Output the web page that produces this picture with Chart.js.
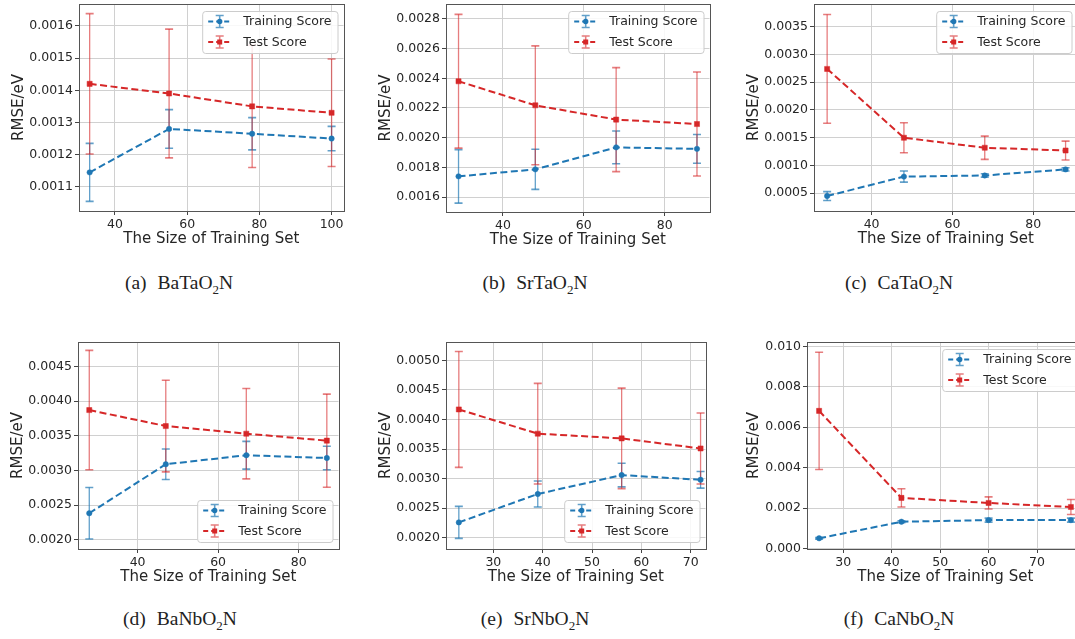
<!DOCTYPE html>
<html>
<head>
<meta charset="utf-8">
<script src="https://cdn.jsdelivr.net/npm/chart.js@4.4.0/dist/chart.umd.min.js"></script>
<style>
    html, body { margin: 0; padding: 0; background: #fff; }
    body { position: relative; width: 1075px; height: 639px; overflow: hidden; }
    canvas { position: absolute; }
    .cap {
        position: absolute;
        font-family: 'Liberation Serif', 'Times New Roman', serif;
        font-size: 19.5px;
        color: #222;
        white-space: nowrap;
        transform: translateX(-50%);
    }
    .cap .gap { display: inline-block; width: 11px; }
    .cap sub { font-size: 13px; vertical-align: -5px; line-height: 0; }
</style>
</head>
<body>
<div class="cap" style="left:179px; top:272px">(a)<span class="gap"></span>BaTaO<sub>2</sub>N</div>
<div class="cap" style="left:535px; top:272px">(b)<span class="gap"></span>SrTaO<sub>2</sub>N</div>
<div class="cap" style="left:899px; top:272px">(c)<span class="gap"></span>CaTaO<sub>2</sub>N</div>
<div class="cap" style="left:180px; top:608px">(d)<span class="gap"></span>BaNbO<sub>2</sub>N</div>
<div class="cap" style="left:535px; top:608px">(e)<span class="gap"></span>SrNbO<sub>2</sub>N</div>
<div class="cap" style="left:899px; top:608px">(f)<span class="gap"></span>CaNbO<sub>2</sub>N</div>

<script>
// --- data ---
const seriesLabels = ['Training Score', 'Test Score'];

// (a) BaTaO2N
const xA = [33, 55, 78, 100];
const trainA = [0.001145, 0.00128, 0.001265, 0.00125];
const trainErrA = [0.00009, 0.00006, 0.00005, 0.000038];
const testA = [0.00142, 0.00139, 0.00135, 0.00133];
const testErrA = [0.000218, 0.0002, 0.00019, 0.000167];
const xTicksA = [40, 60, 80, 100];
const yTicksA = [0.0011, 0.0012, 0.0013, 0.0014, 0.0015, 0.0016];

// (b) SrTaO2N
const xB = [29, 48, 68, 88];
const trainB = [0.00174, 0.001787, 0.001935, 0.001925];
const trainErrB = [0.00018, 0.000135, 0.00011, 0.000097];
const testB = [0.00238, 0.002218, 0.002122, 0.002092];
const testErrB = [0.00045, 0.0004, 0.00035, 0.00035];
const xTicksB = [40, 60, 80];
const yTicksB = [0.0016, 0.0018, 0.0020, 0.0022, 0.0024, 0.0026, 0.0028];

// (c) CaTaO2N
const xC = [29, 48, 68, 88];
const trainC = [0.00045, 0.0008, 0.00082, 0.00093];
const trainErrC = [0.00008, 0.0001, 0.00003, 0.00003];
const testC = [0.00274, 0.0015, 0.00132, 0.00127];
const testErrC = [0.00098, 0.00027, 0.00021, 0.00017];
const xTicksC = [40, 60, 80];
const yTicksC = [0.0005, 0.0010, 0.0015, 0.0020, 0.0025, 0.0030, 0.0035];

// (d) BaNbO2N
const xD = [28, 47, 67, 87];
const trainD = [0.002385, 0.00309, 0.00322, 0.00318];
const trainErrD = [0.00037, 0.00022, 0.0002, 0.00017];
const testD = [0.00387, 0.00364, 0.00353, 0.00343];
const testErrD = [0.00086, 0.00066, 0.00065, 0.00067];
const xTicksD = [40, 60, 80];
const yTicksD = [0.0020, 0.0025, 0.0030, 0.0035, 0.0040, 0.0045];

// (e) SrNbO2N
const xE = [23, 39, 56, 72];
const trainE = [0.00226, 0.00274, 0.00306, 0.00298];
const trainErrE = [0.00027, 0.00022, 0.0002, 0.00014];
const testE = [0.00417, 0.00376, 0.00368, 0.00351];
const testErrE = [0.00098, 0.00085, 0.00085, 0.0006];
const xTicksE = [30, 40, 50, 60, 70];
const yTicksE = [0.0020, 0.0025, 0.0030, 0.0035, 0.0040, 0.0045, 0.0050];

// (f) CaNbO2N
const xF = [25, 42, 60, 77];
const trainF = [0.0005, 0.00132, 0.0014, 0.0014];
const trainErrF = [0.00004, 0.00005, 0.0001, 0.0001];
const testF = [0.00681, 0.0025, 0.00225, 0.00205];
const testErrF = [0.0029, 0.00045, 0.0003, 0.00037];
const xTicksF = [30, 40, 50, 60, 70];
const yTicksF = [0.000, 0.002, 0.004, 0.006, 0.008, 0.010];

// panel layout: plot-area box in page pixels + axis limits
const panels = [
    { x: xA, train: trainA, trainErr: trainErrA, test: testA, testErr: testErrA, xTicks: xTicksA, yTicks: yTicksA, dec: 4,
      xMin: 30.05, xMax: 103.3, yMin: 0.001025, yMax: 0.001668, left: 79, top: 4, w: 265, h: 207, yw: 69, legend: 'tr' },
    { x: xB, train: trainB, trainErr: trainErrB, test: testB, testErr: testErrB, xTicks: xTicksB, yTicks: yTicksB, dec: 4,
      xMin: 25.9, xMax: 91.1, yMin: 0.0015, yMax: 0.0029, left: 446, top: 4, w: 264, h: 208, yw: 69, legend: 'tr' },
    { x: xC, train: trainC, trainErr: trainErrC, test: testC, testErr: testErrC, xTicks: xTicksC, yTicks: yTicksC, dec: 4,
      xMin: 25.75, xMax: 90.95, yMin: 0.00018, yMax: 0.00391, left: 814, top: 4, w: 264, h: 207, yw: 69, legend: 'tr' },
    { x: xD, train: trainD, trainErr: trainErrD, test: testD, testErr: testErrD, xTicks: xTicksD, yTicks: yTicksD, dec: 4,
      xMin: 25.2, xMax: 89.9, yMin: 0.00187, yMax: 0.00485, left: 78, top: 342, w: 261, h: 207, yw: 69, legend: 'br' },
    { x: xE, train: trainE, trainErr: trainErrE, test: testE, testErr: testErrE, xTicks: xTicksE, yTicks: yTicksE, dec: 4,
      xMin: 20.4, xMax: 73.0, yMin: 0.00181, yMax: 0.00531, left: 446, top: 342, w: 260, h: 207, yw: 69, legend: 'br' },
    { x: xF, train: trainF, trainErr: trainErrF, test: testF, testErr: testErrF, xTicks: xTicksF, yTicks: yTicksF, dec: 3,
      xMin: 22.5, xMax: 79.6, yMin: -0.00003, yMax: 0.01022, left: 807, top: 342, w: 277, h: 207, yw: 62, legend: 'tr' }
];

const BLUE = '#1f77b4';
const RED = '#d62728';
const DASH = [7, 3.5];
const PAD_TOP = 10, PAD_RIGHT = 4, X_H = 37;

Chart.defaults.font.family = "'DejaVu Sans', sans-serif";
Chart.defaults.color = '#262626';

// vertical error bars with caps, drawn under the dashed lines
const errorBars = {
    id: 'errorBars',
    beforeDatasetsDraw(chart) {
        const { ctx, scales: { x, y } } = chart;
        chart.data.datasets.forEach(ds => {
            ctx.save();
            ctx.strokeStyle = ds.errColor;
            ds.data.forEach((p, i) => {
                const e = ds.err[i];
                const px = x.getPixelForValue(p.x);
                const yt = y.getPixelForValue(p.y + e);
                const yb = y.getPixelForValue(p.y - e);
                ctx.lineWidth = 1.3;
                ctx.beginPath();
                ctx.moveTo(px, yt);
                ctx.lineTo(px, yb);
                ctx.stroke();
                ctx.lineWidth = 1.6;
                ctx.beginPath();
                ctx.moveTo(px - 4, yt); ctx.lineTo(px + 4, yt);
                ctx.moveTo(px - 4, yb); ctx.lineTo(px + 4, yb);
                ctx.stroke();
            });
            ctx.restore();
        });
    }
};

// frame + matplotlib style legend inside the axes
const frameLegend = {
    id: 'frameLegend',
    afterDraw(chart, args, opts) {
        const { ctx, chartArea: a } = chart;
        ctx.save();
        ctx.strokeStyle = '#555';
        ctx.lineWidth = 1;
        ctx.strokeRect(Math.round(a.left) + 0.5, Math.round(a.top) + 0.5,
            Math.round(a.right - a.left), Math.round(a.bottom - a.top));

        ctx.font = "12.5px 'DejaVu Sans', sans-serif";
        const tw = Math.max(...chart.data.datasets.map(d => ctx.measureText(d.label).width));
        const w = 6 + 23 + 12 + tw + 6;
        const h = 42;
        const bx = a.right - 6 - w;
        const by = opts.pos === 'br' ? a.bottom - 7 - h : a.top + 7;
        ctx.fillStyle = 'rgba(255,255,255,0.85)';
        ctx.strokeStyle = '#cccccc';
        ctx.beginPath();
        ctx.roundRect(bx + 0.5, by + 0.5, w, h, 3);
        ctx.fill();
        ctx.stroke();

        chart.data.datasets.forEach((d, i) => {
            const cy = by + 10.5 + i * 20.5;
            const hx = bx + 6, cx = hx + 11.5;
            ctx.strokeStyle = d.borderColor;
            ctx.lineWidth = 2;
            ctx.setLineDash([5, 3]);
            ctx.beginPath();
            ctx.moveTo(hx, cy); ctx.lineTo(hx + 23, cy);
            ctx.stroke();
            ctx.setLineDash([]);
            ctx.strokeStyle = d.errColor;
            ctx.lineWidth = 1.6;
            ctx.beginPath();
            ctx.moveTo(cx, cy - 6); ctx.lineTo(cx, cy + 6);
            ctx.moveTo(cx - 4, cy - 6); ctx.lineTo(cx + 4, cy - 6);
            ctx.moveTo(cx - 4, cy + 6); ctx.lineTo(cx + 4, cy + 6);
            ctx.stroke();
            ctx.fillStyle = d.borderColor;
            if (d.pointStyle === 'rect') {
                ctx.fillRect(cx - 2.5, cy - 2.5, 5, 5);
            } else {
                ctx.beginPath();
                ctx.arc(cx, cy, 2.7, 0, Math.PI * 2);
                ctx.fill();
            }
            ctx.fillStyle = '#262626';
            ctx.textBaseline = 'middle';
            ctx.fillText(d.label, hx + 35, cy + 0.5);
        });
        ctx.restore();
    }
};

function makePanel(p) {
    const canvas = document.createElement('canvas');
    const cw = p.yw + p.w + PAD_RIGHT;
    const ch = PAD_TOP + p.h + X_H;
    canvas.width = cw;
    canvas.height = ch;
    canvas.style.left = (p.left - p.yw) + 'px';
    canvas.style.top = (p.top - PAD_TOP) + 'px';
    canvas.style.width = cw + 'px';
    canvas.style.height = ch + 'px';
    document.body.appendChild(canvas);

    const pts = vals => p.x.map((xv, i) => ({ x: xv, y: vals[i] }));

    return new Chart(canvas.getContext('2d'), {
        type: 'line',
        data: {
            datasets: [{
                label: seriesLabels[0],
                data: pts(p.train),
                err: p.trainErr,
                errColor: 'rgba(31,119,180,0.7)',
                borderColor: BLUE,
                backgroundColor: BLUE,
                pointStyle: 'circle',
                pointRadius: 2.7,
                pointBorderWidth: 0.5,
                borderWidth: 2,
                borderDash: DASH,
                fill: false
            }, {
                label: seriesLabels[1],
                data: pts(p.test),
                err: p.testErr,
                errColor: 'rgba(214,39,40,0.6)',
                borderColor: RED,
                backgroundColor: RED,
                pointStyle: 'rect',
                pointRadius: 3.6,
                pointBorderWidth: 0.5,
                borderWidth: 2,
                borderDash: DASH,
                fill: false
            }]
        },
        options: {
            responsive: false,
            animation: false,
            devicePixelRatio: 1,
            layout: { padding: { top: PAD_TOP, right: PAD_RIGHT, left: 0, bottom: 0 } },
            plugins: {
                legend: { display: false },
                tooltip: { enabled: false },
                frameLegend: { pos: p.legend }
            },
            elements: { line: { tension: 0 } },
            scales: {
                x: {
                    type: 'linear',
                    min: p.xMin,
                    max: p.xMax,
                    afterBuildTicks: s => { s.ticks = p.xTicks.map(v => ({ value: v })); },
                    afterFit: s => { s.height = X_H; },
                    border: { display: false },
                    grid: { color: '#d0d0d0', lineWidth: 1, drawTicks: true, tickLength: 4, tickColor: '#444' },
                    ticks: { font: { size: 12.5 }, padding: 2, maxRotation: 0, callback: v => String(v) },
                    title: { display: true, text: 'The Size of Training Set', font: { size: 15 }, padding: 0 }
                },
                y: {
                    type: 'linear',
                    min: p.yMin,
                    max: p.yMax,
                    afterBuildTicks: s => { s.ticks = p.yTicks.map(v => ({ value: v })); },
                    afterFit: s => { s.width = p.yw; },
                    border: { display: false },
                    grid: { color: '#d0d0d0', lineWidth: 1, drawTicks: true, tickLength: 4, tickColor: '#444' },
                    ticks: { font: { size: 12.5 }, padding: 2, callback: v => v.toFixed(p.dec) },
                    title: { display: true, text: 'RMSE/eV', font: { size: 15 }, padding: 0 }
                }
            }
        },
        plugins: [errorBars, frameLegend]
    });
}

panels.forEach(makePanel);
</script>
</body>
</html>
